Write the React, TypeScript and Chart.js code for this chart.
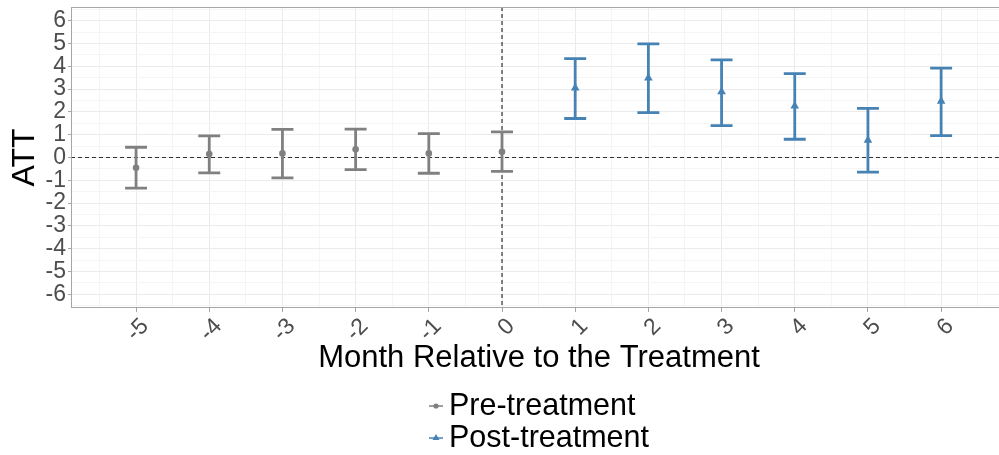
import React, { useEffect, useRef } from 'react';
import { Chart, registerables } from 'chart.js';

Chart.register(...registerables);

// ---- data ----
const preMonths = [-5, -4, -3, -2, -1, 0];
const preATT = [-0.45, 0.15, 0.18, 0.36, 0.18, 0.25];
const preLower = [-1.34, -0.67, -0.89, -0.53, -0.69, -0.61];
const preUpper = [0.45, 0.95, 1.23, 1.24, 1.05, 1.12];

const postMonths = [1, 2, 3, 4, 5, 6];
const postATT = [3.05, 3.49, 2.88, 2.26, 0.76, 2.47];
const postLower = [1.71, 1.97, 1.40, 0.80, -0.64, 0.96];
const postUpper = [4.34, 4.98, 4.28, 3.68, 2.15, 3.92];

const xTickValues = [-5, -4, -3, -2, -1, 0, 1, 2, 3, 4, 5, 6];
const yTickValues = [-6, -5, -4, -3, -2, -1, 0, 1, 2, 3, 4, 5, 6];

const seriesLabels = ['Pre-treatment', 'Post-treatment'];
const xTitle = 'Month Relative to the Treatment';
const yTitle = 'ATT';
const refX = 0;
const refY = 0;

// ---- styles ----
const PRE_COLOR = '#808080';
const POST_COLOR = '#4682B4';
const FONT = "'Liberation Sans', Arial, Helvetica, sans-serif";
const MAJOR_GRID = '#ebebeb';
const MINOR_GRID = '#f5f5f5';
const BORDER = '#a6a6a6';
const TICK_TEXT = '#4d4d4d';

const withMinor = (vals: number[]) => {
  const out: number[] = [];
  vals.forEach((v, i) => {
    if (i === 0) out.push(v - 0.5);
    out.push(v);
    out.push(v + 0.5);
  });
  return out;
};

const isMajor = (v: number) => Math.abs(v - Math.round(v)) < 1e-9;

const errorBarPlugin = {
  id: 'errorBars',
  beforeDatasetsDraw(chart: any) {
    const { ctx, chartArea, scales } = chart;
    const xs = scales.x;
    const ys = scales.y;
    ctx.save();
    // reference dashed lines
    ctx.strokeStyle = '#333333';
    ctx.lineWidth = 1.2;
    ctx.setLineDash([4, 3]);
    const y0 = ys.getPixelForValue(refY);
    ctx.beginPath();
    ctx.moveTo(chartArea.left, y0);
    ctx.lineTo(chartArea.right, y0);
    ctx.stroke();
    const x0 = xs.getPixelForValue(refX);
    ctx.beginPath();
    ctx.moveTo(x0, chartArea.top);
    ctx.lineTo(x0, chartArea.bottom);
    ctx.stroke();
    ctx.setLineDash([]);

    // panel border
    ctx.strokeStyle = BORDER;
    ctx.lineWidth = 1;
    ctx.strokeRect(chartArea.left + 0.5, chartArea.top + 0.5, chartArea.right - chartArea.left - 1, chartArea.bottom - chartArea.top - 1);

    // error bars
    const groups = [
      { xs: preMonths, lo: preLower, hi: preUpper, color: PRE_COLOR },
      { xs: postMonths, lo: postLower, hi: postUpper, color: POST_COLOR },
    ];
    const capHalf = 0.15;
    ctx.lineWidth = 2.8;
    ctx.lineCap = 'butt';
    groups.forEach((g) => {
      ctx.strokeStyle = g.color;
      g.xs.forEach((m, i) => {
        const px = xs.getPixelForValue(m);
        const pl = xs.getPixelForValue(m - capHalf);
        const pr = xs.getPixelForValue(m + capHalf);
        const pLo = ys.getPixelForValue(g.lo[i]);
        const pHi = ys.getPixelForValue(g.hi[i]);
        ctx.beginPath();
        ctx.moveTo(px, pLo);
        ctx.lineTo(px, pHi);
        ctx.moveTo(pl, pLo);
        ctx.lineTo(pr, pLo);
        ctx.moveTo(pl, pHi);
        ctx.lineTo(pr, pHi);
        ctx.stroke();
      });
    });
    ctx.restore();
  },
  afterDraw(chart: any) {
    // vertical legend below the axis title
    const { ctx, chartArea } = chart;
    const datasets = chart.data.datasets;
    ctx.save();
    ctx.font = `30.5px ${FONT}`;
    const textW = Math.max(...datasets.map((d: any) => ctx.measureText(d.label).width));
    const keyW = 14;
    const gap = 6;
    const blockW = keyW + gap + textW;
    const left = (chartArea.left + chartArea.right) / 2 - blockW / 2;
    const rowTop = chart.height - 49;
    const rowH = 32;
    datasets.forEach((d: any, i: number) => {
      const cy = rowTop + i * rowH;
      ctx.strokeStyle = d.borderColor;
      ctx.lineWidth = 1.5;
      ctx.beginPath();
      ctx.moveTo(left, cy);
      ctx.lineTo(left + keyW, cy);
      ctx.stroke();
      ctx.fillStyle = d.backgroundColor;
      const cx = left + keyW / 2;
      if (d.pointStyle === 'triangle') {
        ctx.beginPath();
        ctx.moveTo(cx, cy - 4);
        ctx.lineTo(cx + 3.5, cy + 2);
        ctx.lineTo(cx - 3.5, cy + 2);
        ctx.closePath();
        ctx.fill();
      } else {
        ctx.beginPath();
        ctx.arc(cx, cy, 2.6, 0, Math.PI * 2);
        ctx.fill();
      }
      ctx.fillStyle = '#000000';
      ctx.textAlign = 'left';
      ctx.textBaseline = 'middle';
      ctx.fillText(d.label, left + keyW + gap, cy + 1);
    });
    ctx.restore();
  },
};

export default function App() {
  const canvasRef = useRef<HTMLCanvasElement | null>(null);

  useEffect(() => {
    const canvas = canvasRef.current;
    if (!canvas) return;
    const xAll = withMinor(xTickValues);
    const yAll = withMinor(yTickValues);

    const chart = new Chart(canvas, {
      type: 'scatter',
      data: {
        datasets: [
          {
            label: seriesLabels[0],
            data: preMonths.map((m, i) => ({ x: m, y: preATT[i] })),
            backgroundColor: PRE_COLOR,
            borderColor: PRE_COLOR,
            pointStyle: 'circle',
            pointRadius: 3.3,
            pointBorderWidth: 0,
          },
          {
            label: seriesLabels[1],
            data: postMonths.map((m, i) => ({ x: m, y: postATT[i] })),
            backgroundColor: POST_COLOR,
            borderColor: POST_COLOR,
            pointStyle: 'triangle',
            pointRadius: 5,
            pointBorderWidth: 0,
          },
        ],
      },
      options: {
        animation: false,
        responsive: false,
        layout: { padding: { left: 0, right: 0, top: 7, bottom: 75 } },
        plugins: {
          legend: { display: false },
          tooltip: { enabled: false },
        },
        scales: {
          x: {
            type: 'linear',
            min: -5.889,
            max: 6.9,
            afterBuildTicks: (scale: any) => {
              scale.ticks = xAll.map((v) => ({ value: v }));
            },
            afterFit: (scale: any) => {
              scale.height = 72;
              scale.paddingLeft = 0;
              scale.paddingRight = 0;
            },
            grid: {
              color: (c: any) => (c.tick && isMajor(c.tick.value) ? MAJOR_GRID : MINOR_GRID),
              tickColor: (c: any) => (c.tick && isMajor(c.tick.value) ? BORDER : 'rgba(0,0,0,0)'),
              tickLength: 4,
              lineWidth: 1,
            },
            border: { display: false },
            ticks: {
              autoSkip: false,
              minRotation: 45,
              maxRotation: 45,
              labelOffset: 9,
              padding: 1,
              color: TICK_TEXT,
              font: { family: FONT, size: 23 },
              callback: (v: any) => (isMajor(Number(v)) ? String(Math.round(Number(v))) : ''),
            },
            title: {
              display: true,
              text: xTitle,
              color: '#000000',
              font: { family: FONT, size: 31 },
              padding: { top: 0, bottom: 3 },
            },
          },
          y: {
            type: 'linear',
            min: -6.6,
            max: 6.6,
            afterBuildTicks: (scale: any) => {
              scale.ticks = yAll.map((v) => ({ value: v }));
            },
            afterFit: (scale: any) => {
              scale.width = 71;
              scale.paddingTop = 0;
              scale.paddingBottom = 0;
            },
            grid: {
              color: (c: any) => (c.tick && isMajor(c.tick.value) ? MAJOR_GRID : MINOR_GRID),
              tickColor: (c: any) => (c.tick && isMajor(c.tick.value) ? BORDER : 'rgba(0,0,0,0)'),
              tickLength: 3,
              lineWidth: 1,
            },
            border: { display: false },
            ticks: {
              autoSkip: false,
              padding: 2,
              color: TICK_TEXT,
              font: { family: FONT, size: 23 },
              callback: (v: any) => (isMajor(Number(v)) ? String(Math.round(Number(v))) : ''),
            },
            title: {
              display: true,
              text: yTitle,
              color: '#000000',
              font: { family: FONT, size: 32 },
              padding: { top: 6, bottom: 0 },
            },
          },
        },
      },
      plugins: [errorBarPlugin],
    });
    return () => chart.destroy();
  }, []);

  return (
    <div style={{ position: 'fixed', left: 0, top: 0, width: 999, height: 455, overflow: 'hidden', background: '#ffffff' }}>
      <canvas ref={canvasRef} width={1012} height={455} style={{ display: 'block', width: 1012, height: 455 }} />
    </div>
  );
}
